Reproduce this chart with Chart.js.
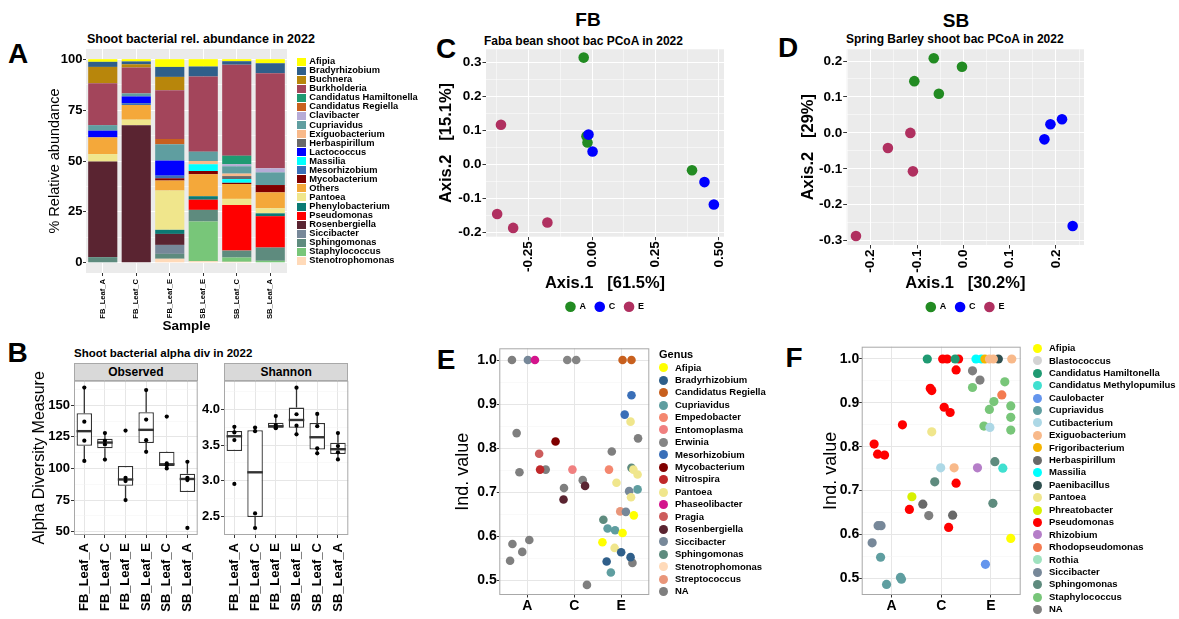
<!DOCTYPE html>
<html>
<head>
<meta charset="utf-8">
<title>Shoot bacteria 2022</title>
<script src="https://cdn.jsdelivr.net/npm/chart.js@4.4.1/dist/chart.umd.min.js"></script>
<style>
  html, body { margin: 0; padding: 0; background: #fff; }
  body { position: relative; width: 1179px; height: 619px; overflow: hidden; font-family: 'Liberation Sans', Arial, sans-serif; color: #000; }
  canvas { position: absolute; }
  .t { position: absolute; white-space: nowrap; font-weight: bold; line-height: 1; }
  .c { transform: translate(-50%, -50%); }
  .l { transform: translateY(-50%); }
  .strip { position: absolute; box-sizing: border-box; background: #d9d9d9; border: 1px solid #a8a8a8; font-weight: bold; font-size: 12px; line-height: 1; display: flex; align-items: center; justify-content: center; }
  .leg { position: absolute; }
  .leg-row { position: absolute; left: 0; white-space: nowrap; font-weight: bold; }
  .leg-sw, .leg-tx { position: absolute; }
</style>
</head>
<body>
<div class="t c" style="left:18px;top:54px;font-size:28px">A</div>
<div class="t c" style="left:17.5px;top:353px;font-size:28px">B</div>
<div class="t c" style="left:446px;top:49px;font-size:28px">C</div>
<div class="t c" style="left:788px;top:48px;font-size:28px">D</div>
<div class="t c" style="left:446px;top:360px;font-size:28px">E</div>
<div class="t c" style="left:794px;top:358px;font-size:28px">F</div>
<div class="t c" style="left:588px;top:19px;font-size:19px">FB</div>
<div class="t c" style="left:956px;top:20px;font-size:19px">SB</div>
<div class="t l" style="left:87px;top:39px;font-size:12.5px">Shoot bacterial rel. abundance in 2022</div>
<div class="t l" style="left:74px;top:353.5px;font-size:11.5px">Shoot bacterial alpha div in 2022</div>
<div class="t l" style="left:484px;top:40.5px;font-size:12px">Faba bean shoot bac PCoA in 2022</div>
<div class="t l" style="left:846px;top:39px;font-size:12px">Spring Barley shoot bac PCoA in 2022</div>
<div class="strip" style="left:74px;top:363.3px;width:123.7px;height:17.4px">Observed</div>
<div class="strip" style="left:224px;top:363.3px;width:124.3px;height:17.4px">Shannon</div>

<canvas id="chartA"></canvas>
<canvas id="chartObs"></canvas>
<canvas id="chartShan"></canvas>
<canvas id="chartC"></canvas>
<canvas id="chartD"></canvas>
<canvas id="chartE"></canvas>
<canvas id="chartF"></canvas>

<div id="legendA" class="leg" style="left:297px;top:57.2px"></div>
<div class="t l" style="left:659px;top:354px;font-size:11px">Genus</div>
<div id="legendE" class="leg" style="left:658.8px;top:361.5px"></div>
<div id="legendF" class="leg" style="left:1032.8px;top:342.1px"></div>

<script>
// ---------- A: relative abundance (%) ----------
const samples = ['FB_Leaf_A', 'FB_Leaf_C', 'FB_Leaf_E', 'SB_Leaf_E', 'SB_Leaf_C', 'SB_Leaf_A'];
const genera = ['Afipia', 'Bradyrhizobium', 'Buchnera', 'Burkholderia', 'Candidatus Hamiltonella',
  'Candidatus Regiella', 'Clavibacter', 'Cupriavidus', 'Exiguobacterium', 'Herbaspirillum', 'Lactococcus',
  'Massilia', 'Mesorhizobium', 'Mycobacterium', 'Others', 'Pantoea', 'Phenylobacterium', 'Pseudomonas',
  'Rosenbergiella', 'Siccibacter', 'Sphingomonas', 'Staphylococcus', 'Stenotrophomonas'];
// one value per genus, same order as genera
const fbLeafA = [1.3, 2.5, 8.0, 20.6, 0, 0, 0, 2.7, 0, 0, 3.3, 0, 0, 0, 8.2, 3.7, 0, 0, 46.9, 0, 2.8, 0, 0];
const fbLeafC = [1.1, 1.4, 1.6, 12.7, 0, 0, 0, 1.5, 0, 0, 3.3, 0, 0.9, 0, 7.2, 2.7, 0, 0, 67.6, 0, 0, 0, 0];
const fbLeafE = [3.8, 4.9, 6.5, 24.0, 0, 2.6, 0, 8.0, 0, 0, 7.4, 0, 1.3, 1.1, 4.9, 19.3, 2.0, 0, 5.4, 4.4, 2.4, 0, 2.0];
const sbLeafE = [3.6, 4.9, 0, 36.9, 0, 0, 0, 4.6, 1.6, 0, 0, 3.3, 0, 1.6, 10.8, 0, 1.7, 5.0, 0, 0, 5.7, 19.5, 0.8];
const sbLeafC = [1.0, 1.7, 0, 44.7, 4.2, 0, 1.0, 3.6, 1.2, 1.5, 0, 1.8, 0, 0.6, 7.3, 3.0, 0, 22.4, 0, 0, 3.4, 2.1, 0.5];
const sbLeafA = [2.0, 4.9, 0, 46.7, 0, 0, 2.0, 6.2, 0, 0, 0, 0, 0, 3.6, 7.8, 2.5, 1.4, 15.4, 0, 0, 6.5, 1.0, 0];
const abundance = [fbLeafA, fbLeafC, fbLeafE, sbLeafE, sbLeafC, sbLeafA];
const pctTicks = [0, 25, 50, 75, 100];
const pctLabels = ['0', '25', '50', '75', '100'];

// ---------- B: alpha diversity, replicate values per sample ----------
const observed = [[164, 137, 122, 106], [128, 122, 119, 107], [130, 92.6, 90, 75],
  [162, 138.7, 122.4, 113.2], [141, 104, 102.6, 100], [105.3, 92.6, 90.8, 53]];
const shannon = [[3.755, 3.676, 3.57, 2.958], [3.745, 3.694, 2.546, 2.343], [3.905, 3.78, 3.745, 3.735],
  [4.30, 3.93, 3.77, 3.65], [3.935, 3.764, 3.454, 3.384], [3.667, 3.486, 3.398, 3.30]];
const obsTicks = [50, 75, 100, 125, 150];
const obsLabels = ['50', '75', '100', '125', '150'];
const shanTicks = [2.5, 3.0, 3.5, 4.0];
const shanLabels = ['2.5', '3.0', '3.5', '4.0'];

// ---------- C / D: PCoA coordinates [Axis.1, Axis.2] ----------
const fbA = [[-0.033, 0.315], [-0.022, 0.083], [-0.018, 0.065], [0.394, -0.017]];
const fbC = [[-0.014, 0.088], [0.002, 0.038], [0.443, -0.052], [0.480, -0.118]];
const fbE = [[-0.359, 0.117], [-0.374, -0.146], [-0.311, -0.187], [-0.176, -0.171]];
const sbA = [[-0.064, 0.2075], [-0.003, 0.184], [-0.106, 0.144], [-0.053, 0.109]];
const sbC = [[0.188, 0.024], [0.213, 0.038], [0.175, -0.018], [0.236, -0.259]];
const sbE = [[-0.1145, 0.0], [-0.163, -0.042], [-0.109, -0.107], [-0.232, -0.287]];
const fbXTicks = [-0.25, 0, 0.25, 0.5];
const fbXLabels = ['-0.25', '0.00', '0.25', '0.50'];
const fbYTicks = [-0.2, -0.1, 0, 0.1, 0.2, 0.3];
const fbYLabels = ['-0.2', '-0.1', '0.0', '0.1', '0.2', '0.3'];
const sbXTicks = [-0.2, -0.1, 0, 0.1, 0.2];
const sbXLabels = ['-0.2', '-0.1', '0.0', '0.1', '0.2'];
const sbYTicks = [-0.3, -0.2, -0.1, 0, 0.1, 0.2];
const sbYLabels = ['-0.3', '-0.2', '-0.1', '0.0', '0.1', '0.2'];

// ---------- E / F: indicator values (x = group position with jitter) ----------
const eGenera = ['Afipia', 'Bradyrhizobium', 'Candidatus Regiella', 'Cupriavidus', 'Empedobacter', 'Entomoplasma',
  'Erwinia', 'Mesorhizobium', 'Mycobacterium', 'Nitrospira', 'Pantoea', 'Phaseolibacter', 'Pragia',
  'Rosenbergiella', 'Siccibacter', 'Sphingomonas', 'Stenotrophomonas', 'Streptococcus', 'NA'];
const eX = [0.67, 1.01, 1.16, 1.85, 2.04, 3.03, 3.22, 3.22, 3.075, 3.20, 3.36, 0.77, 1.60, 1.25, 2.80, 1.27, 1.39,
  0.83, 1.96, 2.74, 3.22, 3.26, 3.35, 2.90, 1.78, 2.18, 2.23, 1.77, 3.35, 3.17, 3.21, 2.98, 3.10, 3.27, 2.62, 2.71,
  2.87, 3.03, 2.60, 2.86, 3.00, 3.20, 3.24, 2.69, 2.78, 2.27, 0.68, 1.04, 0.89, 0.63];
const eY = [1.0, 1.0, 1.0, 1.0, 1.0, 1.0, 1.0, 0.920, 0.876, 0.860, 0.822, 0.834, 0.815, 0.787, 0.792, 0.751, 0.751,
  0.745, 0.751, 0.751, 0.755, 0.751, 0.740, 0.721, 0.709, 0.727, 0.714, 0.683, 0.706, 0.702, 0.688, 0.656, 0.655,
  0.647, 0.637, 0.617, 0.613, 0.607, 0.586, 0.573, 0.563, 0.552, 0.539, 0.542, 0.517, 0.489, 0.582, 0.591, 0.564, 0.544];
const eG = ['NA', 'Siccibacter', 'Phaseolibacter', 'Erwinia', 'Erwinia', 'Candidatus Regiella', 'Candidatus Regiella',
  'Mesorhizobium', 'Mesorhizobium', 'Pantoea', 'NA', 'NA', 'Mycobacterium', 'Pragia', 'NA', 'Nitrospira', 'NA', 'NA',
  'Entomoplasma', 'Empedobacter', 'Sphingomonas', 'Pantoea', 'Pantoea', 'Pantoea', 'NA', 'NA', 'Rosenbergiella',
  'Rosenbergiella', 'Cupriavidus', 'Siccibacter', 'Pantoea', 'Streptococcus', 'Siccibacter', 'Afipia', 'Sphingomonas',
  'Cupriavidus', 'Cupriavidus', 'Afipia', 'Afipia', 'Pantoea', 'Bradyrhizobium', 'Bradyrhizobium', 'NA',
  'Bradyrhizobium', 'Cupriavidus', 'NA', 'NA', 'NA', 'NA', 'NA'];

const fGenera = ['Afipia', 'Blastococcus', 'Candidatus Hamiltonella', 'Candidatus Methylopumilus', 'Caulobacter',
  'Cupriavidus', 'Cutibacterium', 'Exiguobacterium', 'Frigoribacterium', 'Herbaspirillum', 'Massilia',
  'Paenibacillus', 'Pantoea', 'Phreatobacter', 'Pseudomonas', 'Rhizobium', 'Rhodopseudomonas', 'Rothia',
  'Siccibacter', 'Sphingomonas', 'Staphylococcus', 'NA'];
const fX = [1.72, 2.03, 2.12, 2.28, 2.35, 2.70, 2.81, 2.88, 2.97, 3.05, 3.15, 3.42, 2.30, 2.63, 2.78, 2.63, 3.28, 1.78,
  1.81, 3.22, 3.06, 2.97, 3.40, 3.40, 3.40, 2.86, 2.98, 2.06, 2.18, 1.22, 1.81, 0.65, 0.72, 0.86, 1.99, 2.26, 2.73,
  3.08, 3.24, 1.87, 2.30, 1.41, 1.63, 1.36, 1.75, 2.23, 3.04, 2.15, 0.73, 0.79, 3.40, 0.61, 0.78, 2.89, 1.18, 1.20, 0.90];
const fY = [1.0, 1.0, 1.0, 1.0, 1.0, 1.0, 1.0, 1.0, 1.0, 1.0, 1.0, 1.0, 0.975, 0.973, 0.952, 0.935, 0.948, 0.933,
  0.928, 0.918, 0.903, 0.885, 0.893, 0.867, 0.838, 0.847, 0.844, 0.890, 0.878, 0.850, 0.834, 0.806, 0.783, 0.781,
  0.752, 0.752, 0.752, 0.766, 0.751, 0.720, 0.717, 0.686, 0.669, 0.657, 0.643, 0.644, 0.671, 0.616, 0.620, 0.620,
  0.591, 0.581, 0.548, 0.532, 0.502, 0.498, 0.486];
const fG = ['Candidatus Hamiltonella', 'Pseudomonas', 'Pseudomonas', 'Candidatus Hamiltonella', 'Pseudomonas',
  'Massilia', 'Massilia', 'Frigoribacterium', 'Exiguobacterium', 'Exiguobacterium', 'Paenibacillus',
  'Exiguobacterium', 'Pseudomonas', 'NA', 'NA', 'Staphylococcus', 'Staphylococcus', 'Pseudomonas', 'Pseudomonas',
  'Rhodopseudomonas', 'Staphylococcus', 'Staphylococcus', 'Staphylococcus', 'Staphylococcus', 'Staphylococcus',
  'Staphylococcus', 'Cutibacterium', 'Pseudomonas', 'Pseudomonas', 'Pseudomonas', 'Pantoea', 'Pseudomonas',
  'Pseudomonas', 'Pseudomonas', 'Cutibacterium', 'Exiguobacterium', 'Rhizobium', 'Sphingomonas',
  'Candidatus Methylopumilus', 'Sphingomonas', 'Pseudomonas', 'Phreatobacter', 'Herbaspirillum', 'Pseudomonas',
  'NA', 'Herbaspirillum', 'Sphingomonas', 'Pseudomonas', 'Siccibacter', 'Siccibacter', 'Afipia', 'Siccibacter',
  'Cupriavidus', 'Caulobacter', 'Cupriavidus', 'Cupriavidus', 'Cupriavidus'];
const indTicks = [0.5, 0.6, 0.7, 0.8, 0.9, 1.0];
const indLabels = ['0.5', '0.6', '0.7', '0.8', '0.9', '1.0'];
const groupTicks = [1, 2, 3];
const groupLabels = ['A', 'C', 'E'];

// ---------- colours ----------
const genusColor = {
  'Afipia': '#ffff00', 'Bradyrhizobium': '#2f5f8a', 'Buchnera': '#b8860b', 'Burkholderia': '#a3455b',
  'Candidatus Hamiltonella': '#1f9a72', 'Candidatus Regiella': '#c8601e', 'Candidatus Methylopumilus': '#40e0d0',
  'Clavibacter': '#b7abd6', 'Cupriavidus': '#5f9ea0', 'Exiguobacterium': '#f8b98a', 'Herbaspirillum': '#696969',
  'Lactococcus': '#0000ff', 'Massilia': '#00ffff', 'Mesorhizobium': '#3a6fb8', 'Mycobacterium': '#800000',
  'Others': '#f4a83a', 'Pantoea': '#f0e68c', 'Phenylobacterium': '#0b7a74', 'Pseudomonas': '#ff0000',
  'Rosenbergiella': '#5a2431', 'Siccibacter': '#778899', 'Sphingomonas': '#5e8b7e', 'Staphylococcus': '#78c679',
  'Stenotrophomonas': '#ffdab9', 'Empedobacter': '#f4876f', 'Entomoplasma': '#f08080', 'Erwinia': '#858585',
  'Nitrospira': '#c0282a', 'Phaseolibacter': '#d4148c', 'Pragia': '#cd5c5c', 'Streptococcus': '#e9967a',
  'Blastococcus': '#d3d3d3', 'Caulobacter': '#6495ed', 'Cutibacterium': '#add8e6', 'Frigoribacterium': '#f5b400',
  'Paenibacillus': '#2f4f4f', 'Phreatobacter': '#d7f000', 'Rhizobium': '#b57ec8', 'Rhodopseudomonas': '#f47b50',
  'Rothia': '#9fe2bf', 'NA': '#7f7f7f'
};
const groupColor = { A: '#228b22', C: '#0000ff', E: '#b03060' };

Chart.defaults.font.family = "'Liberation Sans', Arial, sans-serif";
Chart.defaults.color = '#000';
Chart.defaults.animation = false;
Chart.defaults.events = [];
Chart.defaults.plugins.legend.display = false;
Chart.defaults.plugins.tooltip.enabled = false;

function canvasAt(id, left, top, w, h) {
  const c = document.getElementById(id);
  c.width = w; c.height = h;
  c.style.left = left + 'px'; c.style.top = top + 'px';
  c.style.width = w + 'px'; c.style.height = h + 'px';
  return c;
}

// linear axis with major ticks (labelled) and ggplot-like minor grid lines
function valueAxis(cfg) {
  const step = cfg.major[1] - cfg.major[0];
  const vals = cfg.major.slice();
  if (cfg.minor) {
    vals.push(cfg.major[0] - step / 2);
    cfg.major.forEach(m => vals.push(m + step / 2));
  }
  const all = vals.filter(v => v >= cfg.min - 1e-9 && v <= cfg.max + 1e-9).sort((a, b) => a - b);
  const idx = v => cfg.major.findIndex(m => Math.abs(m - v) < 1e-9);
  const isMajor = c => c.tick && idx(c.tick.value) >= 0;
  const vertical = cfg.position === 'left';
  return {
    type: 'linear', position: cfg.position, min: cfg.min, max: cfg.max, stacked: !!cfg.stacked,
    afterBuildTicks: s => { s.ticks = all.map(v => ({ value: v })); },
    afterFit: s => { if (vertical) s.width = cfg.size; else s.height = cfg.size; },
    border: { display: false },
    grid: {
      color: c => isMajor(c) ? cfg.grid[0] : cfg.grid[1],
      lineWidth: c => isMajor(c) ? 1 : 0.5,
      tickLength: cfg.tickLength,
      tickColor: c => isMajor(c) ? '#333' : 'rgba(0,0,0,0)'
    },
    ticks: {
      autoSkip: false, padding: cfg.pad, color: '#000', font: { size: cfg.fontSize, weight: 'bold' },
      minRotation: cfg.rot || 0, maxRotation: cfg.rot || 0,
      callback: v => { const k = idx(v); return k < 0 ? '' : cfg.labels[k]; }
    },
    title: cfg.title ? { display: true, text: cfg.title, color: '#000', padding: 0, font: cfg.titleFont } : { display: false }
  };
}

function sampleAxis(cfg) {
  return {
    type: 'category', position: 'bottom', offset: true, stacked: !!cfg.stacked,
    afterFit: s => { s.height = cfg.size; },
    border: { display: false },
    grid: { offset: false, color: cfg.gridColor, lineWidth: 1, tickLength: cfg.tickLength, tickColor: '#333' },
    ticks: { autoSkip: false, padding: cfg.pad, color: '#000', font: { size: cfg.fontSize, weight: 'bold' }, minRotation: 90, maxRotation: 90 },
    title: cfg.title ? { display: true, text: cfg.title, color: '#000', padding: 0, font: cfg.titleFont } : { display: false }
  };
}

function panelLook(bg, frame) {
  return {
    id: 'panelLook',
    beforeDraw(chart) {
      if (!bg) return;
      const a = chart.chartArea, ctx = chart.ctx;
      ctx.save(); ctx.fillStyle = bg; ctx.fillRect(a.left, a.top, a.width, a.height); ctx.restore();
    },
    afterDatasetsDraw(chart) {
      if (!frame) return;
      const a = chart.chartArea, ctx = chart.ctx;
      ctx.save(); ctx.strokeStyle = frame; ctx.lineWidth = 1;
      ctx.strokeRect(a.left + 0.5, a.top + 0.5, a.width - 1, a.height - 1); ctx.restore();
    }
  };
}

// legend list built from the chart's own legend items
const htmlLegend = {
  id: 'htmlLegend',
  afterUpdate(chart, args, opts) {
    const host = document.getElementById(opts.containerID);
    if (!host) return;
    host.innerHTML = '';
    const items = chart.options.plugins.legend.labels.generateLabels(chart);
    if (opts.reverse) items.reverse();
    items.forEach((it, k) => {
      const row = document.createElement('div');
      row.className = 'leg-row';
      row.style.top = (k * opts.step) + 'px';
      row.style.height = opts.step + 'px';
      const sw = document.createElement('span');
      sw.className = 'leg-sw';
      sw.style.left = '0px';
      sw.style.top = ((opts.step - opts.swH) / 2) + 'px';
      sw.style.width = opts.swW + 'px';
      sw.style.height = opts.swH + 'px';
      sw.style.background = it.fillStyle;
      sw.style.borderRadius = opts.round ? '50%' : '0';
      const tx = document.createElement('span');
      tx.className = 'leg-tx';
      tx.style.left = opts.textX + 'px';
      tx.style.top = '0px';
      tx.style.lineHeight = opts.step + 'px';
      tx.style.fontSize = opts.fontSize + 'px';
      tx.textContent = it.text;
      row.append(sw, tx);
      host.appendChild(row);
    });
  }
};

// boxplot statistics (R type 7 quantiles, 1.5 IQR whiskers)
function boxStats(vals) {
  const s = vals.slice().sort((a, b) => a - b);
  const q = p => {
    const h = (s.length - 1) * p, lo = Math.floor(h);
    const nxt = lo + 1 < s.length ? s[lo + 1] : s[lo];
    return s[lo] + (h - lo) * (nxt - s[lo]);
  };
  const q1 = q(0.25), med = q(0.5), q3 = q(0.75), iqr = q3 - q1;
  return {
    q1, med, q3,
    lo: Math.min(...s.filter(v => v >= q1 - 1.5 * iqr)),
    hi: Math.max(...s.filter(v => v <= q3 + 1.5 * iqr))
  };
}

// whiskers under the box, median on top of it
function boxLines(stats) {
  return {
    id: 'boxLines',
    beforeDatasetDraw(chart, args) {
      if (args.index !== 1) return;
      const x = chart.scales.x, y = chart.scales.y, ctx = chart.ctx;
      ctx.save(); ctx.strokeStyle = '#333'; ctx.lineWidth = 1.3;
      stats.forEach((s, i) => {
        const px = x.getPixelForValue(i);
        ctx.beginPath();
        ctx.moveTo(px, y.getPixelForValue(s.hi)); ctx.lineTo(px, y.getPixelForValue(s.q3));
        ctx.moveTo(px, y.getPixelForValue(s.q1)); ctx.lineTo(px, y.getPixelForValue(s.lo));
        ctx.stroke();
      });
      ctx.restore();
    },
    afterDatasetDraw(chart, args) {
      if (args.index !== 1) return;
      const x = chart.scales.x, y = chart.scales.y, ctx = chart.ctx;
      const half = (x.getPixelForValue(1) - x.getPixelForValue(0)) * 0.75 / 2;
      ctx.save(); ctx.strokeStyle = '#333'; ctx.lineWidth = 2.4;
      stats.forEach((s, i) => {
        const px = x.getPixelForValue(i), py = y.getPixelForValue(s.med);
        ctx.beginPath(); ctx.moveTo(px - half, py); ctx.lineTo(px + half, py); ctx.stroke();
      });
      ctx.restore();
    }
  };
}

const pts = groups => groups.flatMap((vals, i) => vals.map(v => ({ x: samples[i], y: v })));
const xy = arr => arr.map(p => ({ x: p[0], y: p[1] }));
const pick = (xs, ys, gs, g) => xs.map((x, i) => ({ x: x, y: ys[i], g: gs[i] }))
  .filter(p => p.g === g).map(p => ({ x: p.x, y: p.y }));

// ---------- A ----------
new Chart(canvasAt('chartA', 0, 30, 400, 310), {
  type: 'bar',
  data: {
    labels: samples,
    datasets: genera.map((g, gi) => ({
      label: g, data: abundance.map(s => s[gi]), backgroundColor: genusColor[g], borderWidth: 0,
      barPercentage: 0.87, categoryPercentage: 1
    })).reverse()
  },
  options: {
    responsive: false,
    layout: { padding: { left: 46, right: 113, top: 19, bottom: 6 } },
    scales: {
      x: sampleAxis({ size: 61, tickLength: 3, pad: 3, fontSize: 7.6, gridColor: '#fff', stacked: true,
        title: 'Sample', titleFont: { size: 13.5, weight: 'bold' } }),
      y: valueAxis({ position: 'left', min: -5, max: 105, major: pctTicks, labels: pctLabels, minor: true, size: 40,
        tickLength: 3, pad: 0.6, fontSize: 13, grid: ['#fff', '#fff'], stacked: true,
        title: '% Relative abundance', titleFont: { size: 14.5 } })
    },
    plugins: {
      htmlLegend: { containerID: 'legendA', reverse: true, step: 9.05, swW: 9, swH: 8, textX: 12.3, fontSize: 9.3, round: false }
    }
  },
  plugins: [panelLook('#ebebeb', null), htmlLegend]
});

// ---------- B ----------
function alphaChart(id, left, width, padL, padR, vals, axisCfg) {
  const stats = vals.map(boxStats);
  new Chart(canvasAt(id, left, 340, width, 279), {
    type: 'bar',
    data: {
      labels: samples,
      datasets: [
        { type: 'line', data: pts(vals), showLine: false, pointRadius: 2.1, backgroundColor: '#000', borderColor: '#000', pointBorderWidth: 0 },
        { data: stats.map(s => [s.q1, s.q3]), backgroundColor: '#fff', borderColor: '#333', borderWidth: 1.3,
          borderSkipped: false, barPercentage: 0.75, categoryPercentage: 1 }
      ]
    },
    options: {
      responsive: false,
      layout: { padding: { left: padL, right: padR, top: 40.7, bottom: 4 } },
      scales: {
        x: sampleAxis({ size: 80, tickLength: 3, pad: 5, fontSize: 13, gridColor: '#e6e6e6' }),
        y: valueAxis(axisCfg)
      }
    },
    plugins: [panelLook(null, '#a8a8a8'), boxLines(stats)]
  });
}
alphaChart('chartObs', 0, 222, 30.4, 24.3, observed, {
  position: 'left', min: 47.4, max: 169.4, major: obsTicks, labels: obsLabels, minor: true, size: 43.6,
  tickLength: 3, pad: 1, fontSize: 13, grid: ['#e6e6e6', '#f3f3f3'],
  title: 'Alpha Diversity Measure', titleFont: { size: 16 }
});
alphaChart('chartShan', 200, 170, 0, 21.7, shannon, {
  position: 'left', min: 2.245, max: 4.398, major: shanTicks, labels: shanLabels, minor: true, size: 24,
  tickLength: 3, pad: 1, fontSize: 13, grid: ['#e6e6e6', '#f3f3f3']
});

// ---------- C / D ----------
function pcoaChart(id, left, width, pad, sets, xCfg, yCfg) {
  new Chart(canvasAt(id, left, 30, width, 300), {
    type: 'scatter',
    data: {
      datasets: ['A', 'C', 'E'].map((g, i) => ({
        label: g, data: xy(sets[i]), backgroundColor: groupColor[g], borderColor: groupColor[g],
        borderWidth: 0, pointRadius: 5.3, order: [2, 1, 3][i]
      }))
    },
    options: {
      responsive: false,
      layout: { padding: pad },
      scales: { x: valueAxis(xCfg), y: valueAxis(yCfg) },
      plugins: {
        legend: {
          display: true, position: 'bottom', align: 'center', fullSize: false,
          labels: { usePointStyle: true, pointStyle: 'circle', boxWidth: 9, boxHeight: 7.5, padding: 9.3, color: '#000',
            font: { size: 9, weight: 'bold' }, sort: (a, b) => a.datasetIndex - b.datasetIndex }
        }
      }
    },
    plugins: [panelLook('#ebebeb', null)]
  });
}
pcoaChart('chartC', 400, 380, { left: 36.8, right: 56, top: 19.3, bottom: 8.8 }, [fbA, fbC, fbE],
  { position: 'bottom', min: -0.418, max: 0.520, major: fbXTicks, labels: fbXLabels, minor: true, size: 56.2,
    tickLength: 3.5, pad: 1, fontSize: 13.5, rot: 90, grid: ['#fff', '#fff'],
    title: 'Axis.1   [61.5%]', titleFont: { size: 16.5, weight: 'bold' } },
  { position: 'left', min: -0.213, max: 0.3395, major: fbYTicks, labels: fbYLabels, minor: true, size: 49.2,
    tickLength: 3.5, pad: 1, fontSize: 13.5, grid: ['#fff', '#fff'],
    title: 'Axis.2   [15.1%]', titleFont: { size: 16.5, weight: 'bold' } });
pcoaChart('chartD', 780, 399, { left: 18.4, right: 95, top: 19.3, bottom: 8.5 }, [sbA, sbC, sbE],
  { position: 'bottom', min: -0.252, max: 0.2605, major: sbXTicks, labels: sbXLabels, minor: true, size: 48.2,
    tickLength: 3.5, pad: 1, fontSize: 13.5, rot: 90, grid: ['#fff', '#fff'],
    title: 'Axis.1   [30.2%]', titleFont: { size: 16.5, weight: 'bold' } },
  { position: 'left', min: -0.312, max: 0.2326, major: sbYTicks, labels: sbYLabels, minor: true, size: 48.3,
    tickLength: 3.5, pad: 1, fontSize: 13.5, grid: ['#fff', '#fff'],
    title: 'Axis.2   [29%]', titleFont: { size: 16.5, weight: 'bold' } });

// ---------- E / F ----------
function indChart(id, box, pad, generaList, xs, ys, gs, radius, yRange, legendID) {
  new Chart(canvasAt(id, box[0], box[1], box[2], box[3]), {
    type: 'scatter',
    data: {
      datasets: generaList.map(g => ({
        label: g, data: pick(xs, ys, gs, g), backgroundColor: genusColor[g], borderColor: genusColor[g],
        borderWidth: 0, pointRadius: radius
      }))
    },
    options: {
      responsive: false,
      layout: { padding: pad },
      scales: {
        x: valueAxis({ position: 'bottom', min: 0.4, max: 3.6, major: groupTicks, labels: groupLabels, minor: false,
          size: box[4], tickLength: 2.5, pad: 0, fontSize: 14, grid: ['#e6e6e6', '#f3f3f3'] }),
        y: valueAxis({ position: 'left', min: yRange[0], max: yRange[1], major: indTicks, labels: indLabels, minor: true,
          size: box[5], tickLength: 2.5, pad: 0, fontSize: 14, grid: ['#e6e6e6', '#f3f3f3'],
          title: 'Ind. value', titleFont: { size: 18 } })
      },
      plugins: {
        htmlLegend: { containerID: legendID, step: 12.44, swW: 9, swH: 9, textX: 16.2, fontSize: 9.5, round: true }
      }
    },
    plugins: [panelLook(null, '#a8a8a8'), htmlLegend]
  });
}
indChart('chartE', [420, 338, 370, 281, 22, 47.1], { left: 32.2, right: 140.7, top: 10.3, bottom: 2 },
  eGenera, eX, eY, eG, 4.3, [0.466, 1.0267], 'legendE');
indChart('chartF', [800, 336, 379, 283, 22, 41.8], { left: 19.9, right: 158.3, top: 10.7, bottom: 2 },
  fGenera, fX, fY, fG, 4.6, [0.462, 1.028], 'legendF');
</script>
</body>
</html>
